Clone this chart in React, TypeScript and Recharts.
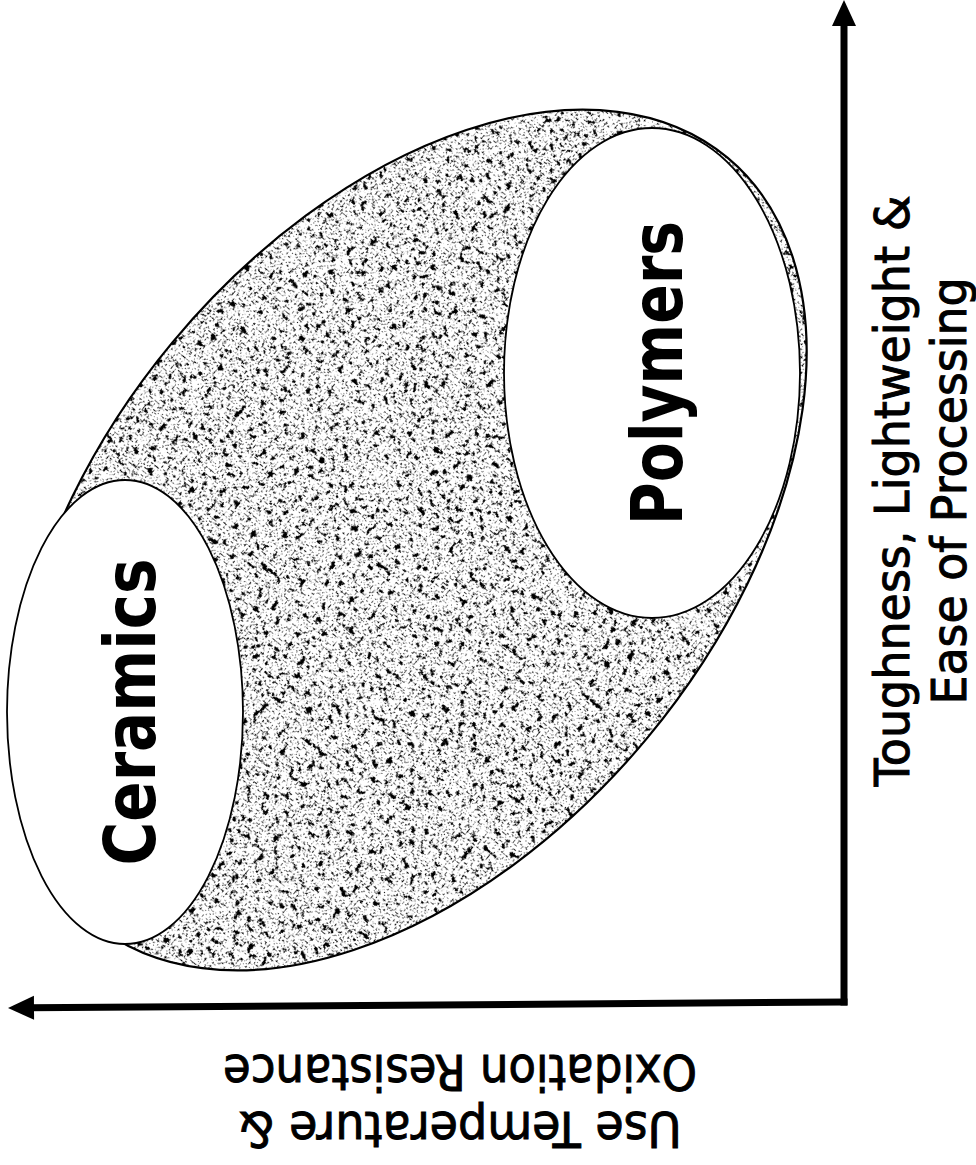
import React from 'react'
import { ScatterChart, Scatter, XAxis, YAxis, ReferenceLine } from 'recharts'

// Axis titles (x grows to the left, y grows upward)
const xTitleLines = ['Use Temperature &', 'Oxidation Resistance']
const yTitleLines = ['Toughness, Lightweight &', 'Ease of Processing']

// Whole property envelope: centre, half-spreads and tilt of the long axis (deg, data space)
const envelope = [{ name: 'envelope', x: 43.4, y: 46.2, rx: 49.7, ry: 30.9, angle: 129.7 }]

// Material classes
const classNames = ['Ceramics', 'Polymers']
const classTemp = [71.9, 19.2]
const classTough = [29.0, 62.9]
const classTempSpread = [11.8, 14.8]
const classToughSpread = [23.2, 24.5]

// Axis arrows (start at origin, end at the arrow tip)
const xArrow = [{ x: 0, y: 0 }, { x: 83.6, y: -0.6 }]
const yArrow = [{ x: 0, y: 0 }, { x: 0, y: 100.2 }]

const classes = classNames.map((name, i) => ({
  name,
  x: classTemp[i],
  y: classTough[i],
  rx: classTempSpread[i],
  ry: classToughSpread[i],
  angle: 0,
}))

const W = 976
const H = 1165
const PLOT_W = 844
const PLOT_H = 1002
const PX = 10 // px per data unit, same on both axes
const X_MAX = PLOT_W / PX
const Y_MAX = PLOT_H / PX

const FONT = "'Comic Sans MS', 'DejaVu Sans', sans-serif"

// text length of the rotated labels, px
const classLabelLen: Record<string, number> = { Ceramics: 307, Polymers: 304 }
const yTitleLen = [591, 427]
const xTitleLen = [443, 474]

function Region(props: any) {
  const { cx, cy, payload } = props
  if (cx == null || cy == null) return null
  const rot = payload.angle + 180
  const rx = payload.rx * PX
  const ry = payload.ry * PX
  const tf = `rotate(${rot} ${cx} ${cy})`

  if (payload.name === 'envelope') {
    return (
      <g>
        <defs>
          {/* scanned-looking stipple: fine grey speckle + sparse dark clumps */}
          <filter id="stipple" x="0" y="0" width="1" height="1" colorInterpolationFilters="sRGB">
            <feTurbulence type="fractalNoise" baseFrequency="0.5" numOctaves={2} seed={3} result="n1" />
            <feColorMatrix
              in="n1"
              type="matrix"
              values="0 0 0 0 0  0 0 0 0 0  0 0 0 0 0  -5 0 0 0 2.2"
              result="d1"
            />
            <feTurbulence type="fractalNoise" baseFrequency="0.16" numOctaves={4} seed={9} result="n2" />
            <feColorMatrix
              in="n2"
              type="matrix"
              values="0 0 0 0 0  0 0 0 0 0  0 0 0 0 0  -14 0 0 0 5.2"
              result="d2"
            />
            <feMerge result="m">
              <feMergeNode in="d1" />
              <feMergeNode in="d2" />
            </feMerge>
            <feComposite in="m" in2="SourceAlpha" operator="in" />
          </filter>
        </defs>
        <ellipse cx={cx} cy={cy} rx={rx} ry={ry} transform={tf} fill="#fff" />
        <ellipse cx={cx} cy={cy} rx={rx} ry={ry} transform={tf} fill="#000" filter="url(#stipple)" />
        <ellipse cx={cx} cy={cy} rx={rx} ry={ry} transform={tf} fill="none" stroke="#000" strokeWidth={2.2} />
      </g>
    )
  }

  return (
    <g>
      <ellipse cx={cx} cy={cy} rx={rx} ry={ry} transform={tf} fill="#fff" stroke="#000" strokeWidth={1.8} />
      <text
        x={cx}
        y={cy + 30}
        transform={`rotate(-90 ${cx} ${cy})`}
        textAnchor="middle"
        fontFamily={FONT}
        fontWeight="bold"
        fontSize={72}
        textLength={classLabelLen[payload.name]}
        lengthAdjust="spacingAndGlyphs"
        fill="#000"
      >
        {payload.name}
      </text>
    </g>
  )
}

function Arrow(props: any) {
  const { x1, y1, x2, y2 } = props
  if ([x1, y1, x2, y2].some((v) => v == null)) return null
  const len = Math.hypot(x2 - x1, y2 - y1)
  const ux = (x2 - x1) / len
  const uy = (y2 - y1) / len
  const head = 26
  const half = 12
  const bx = x2 - ux * head
  const by = y2 - uy * head
  return (
    <g>
      <line x1={x1} y1={y1} x2={bx + ux * 2} y2={by + uy * 2} stroke="#000" strokeWidth={7} strokeLinecap="square" />
      <polygon
        points={`${x2},${y2} ${bx - uy * half},${by + ux * half} ${bx + uy * half},${by - ux * half}`}
        fill="#000"
      />
    </g>
  )
}

function YTitle(props: any) {
  const vb = props.viewBox || { x: PLOT_W, y: 0, width: W - PLOT_W, height: PLOT_H }
  const cy = vb.y + 491
  const base = [vb.x + 65, vb.x + 122]
  return (
    <g>
      {yTitleLines.map((t, i) => (
        <text
          key={t}
          x={base[i]}
          y={cy}
          transform={`rotate(-90 ${base[i]} ${cy})`}
          textAnchor="middle"
          fontFamily={FONT}
          fontSize={48}
          textLength={yTitleLen[i]}
          lengthAdjust="spacingAndGlyphs"
          fill="#000"
          stroke="#000"
          strokeWidth={1}
        >
          {t}
        </text>
      ))}
    </g>
  )
}

function XTitle(props: any) {
  const vb = props.viewBox || { x: 0, y: PLOT_H, width: PLOT_W, height: H - PLOT_H }
  const cx = vb.x + 460
  const base = [vb.y + 110, vb.y + 53]
  return (
    <g>
      {xTitleLines.map((t, i) => (
        <text
          key={t}
          x={cx}
          y={base[i]}
          transform={`rotate(180 ${cx} ${base[i]})`}
          textAnchor="middle"
          fontFamily={FONT}
          fontSize={50}
          textLength={xTitleLen[i]}
          lengthAdjust="spacingAndGlyphs"
          fill="#000"
          stroke="#000"
          strokeWidth={1}
        >
          {t}
        </text>
      ))}
    </g>
  )
}

export default function App() {
  return (
    <div style={{ position: 'absolute', left: 0, top: 0, background: '#fff' }}>
      <ScatterChart width={W} height={H} margin={{ top: 0, right: 0, bottom: 0, left: 0 }}>
        <XAxis
          type="number"
          dataKey="x"
          domain={[0, X_MAX]}
          reversed
          allowDataOverflow
          height={H - PLOT_H}
          tick={false}
          tickLine={false}
          axisLine={false}
          label={{ content: XTitle }}
        />
        <YAxis
          type="number"
          dataKey="y"
          domain={[0, Y_MAX]}
          orientation="right"
          allowDataOverflow
          width={W - PLOT_W}
          tick={false}
          tickLine={false}
          axisLine={false}
          label={{ content: YTitle }}
        />
        <Scatter data={envelope} shape={Region} isAnimationActive={false} />
        <Scatter data={classes} shape={Region} isAnimationActive={false} />
        <ReferenceLine segment={xArrow} ifOverflow="visible" shape={Arrow} />
        <ReferenceLine segment={yArrow} ifOverflow="visible" shape={Arrow} />
      </ScatterChart>
    </div>
  )
}
